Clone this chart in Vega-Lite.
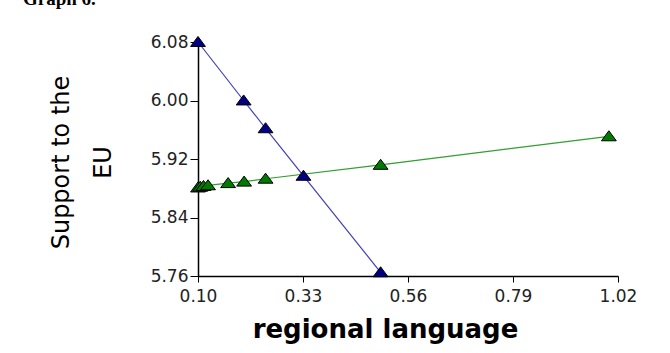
{
  "$schema": "https://vega.github.io/schema/vega-lite/v6.json",
  "autosize": "none",
  "width": 420,
  "height": 234,
  "padding": {"left": 198, "top": 42, "right": 52, "bottom": 77},
  "background": "white",
  "title": {
    "text": "Graph 6.",
    "anchor": "start",
    "frame": "group",
    "font": "Liberation Serif",
    "fontSize": 19,
    "fontWeight": "bold",
    "color": "black",
    "baseline": "alphabetic",
    "offset": 9,
    "dx": -175
  },
  "config": {
    "view": {"stroke": null},
    "axis": {
      "grid": false,
      "domainColor": "black",
      "domainWidth": 1.5,
      "tickColor": "black",
      "tickWidth": 1,
      "labelFont": "DejaVu Sans",
      "labelFontSize": 17,
      "labelColor": "#222",
      "titleColor": "black"
    }
  },
  "datasets": {
    "pts": [
      {"series": "blue", "x": 0.10, "y": 6.08},
      {"series": "blue", "x": 0.20, "y": 6.00},
      {"series": "blue", "x": 0.248, "y": 5.962},
      {"series": "blue", "x": 0.331, "y": 5.897},
      {"series": "blue", "x": 0.50, "y": 5.765},
      {"series": "green", "x": 0.10, "y": 5.881},
      {"series": "green", "x": 0.105, "y": 5.882},
      {"series": "green", "x": 0.112, "y": 5.883},
      {"series": "green", "x": 0.122, "y": 5.884},
      {"series": "green", "x": 0.166, "y": 5.887},
      {"series": "green", "x": 0.201, "y": 5.889},
      {"series": "green", "x": 0.248, "y": 5.893},
      {"series": "green", "x": 0.50, "y": 5.912},
      {"series": "green", "x": 1.00, "y": 5.951}
    ]
  },
  "data": {"name": "pts"},
  "encoding": {
    "x": {
      "field": "x",
      "type": "quantitative",
      "scale": {"domain": [0.10, 1.02], "nice": false, "zero": false},
      "axis": {
        "values": [0.10, 0.33, 0.56, 0.79, 1.02],
        "format": ".2f",
        "tickSize": 6,
        "labelPadding": 6,
        "labelFlush": false,
        "title": "regional language",
        "titleFont": "DejaVu Sans",
        "titleFontSize": 26,
        "titleFontWeight": "bold",
        "titleX": 187,
        "titleY": 61,
        "titleAlign": "center",
        "titleBaseline": "alphabetic"
      }
    },
    "y": {
      "field": "y",
      "type": "quantitative",
      "scale": {"domain": [5.76, 6.08], "nice": false, "zero": false},
      "axis": {
        "values": [5.76, 5.84, 5.92, 6.00, 6.08],
        "format": ".2f",
        "tickSize": 8,
        "labelPadding": 2,
        "labelFlush": false,
        "title": ["Support to the", "EU"],
        "titleFont": "DejaVu Sans",
        "titleFontSize": 24,
        "titleFontWeight": "normal",
        "titleLineHeight": 42,
        "titleX": -130,
        "titleY": 120,
        "titleAngle": -90,
        "titleAlign": "center",
        "titleBaseline": "alphabetic"
      }
    },
    "color": {
      "field": "series",
      "type": "nominal",
      "scale": {"domain": ["blue", "green"], "range": ["#4040b8", "#2ea02e"]},
      "legend": null
    }
  },
  "layer": [
    {
      "mark": {"type": "line", "strokeWidth": 1.2, "clip": false}
    },
    {
      "mark": {"type": "point", "shape": "M-1,0.6L0,-0.75L1,0.6Z", "filled": true, "size": 220, "stroke": "black", "strokeWidth": 1, "opacity": 1, "clip": false},
      "encoding": {
        "fill": {
          "field": "series",
          "type": "nominal",
          "scale": {"domain": ["blue", "green"], "range": ["#000080", "#007a00"]},
          "legend": null
        }
      }
    }
  ]
}
